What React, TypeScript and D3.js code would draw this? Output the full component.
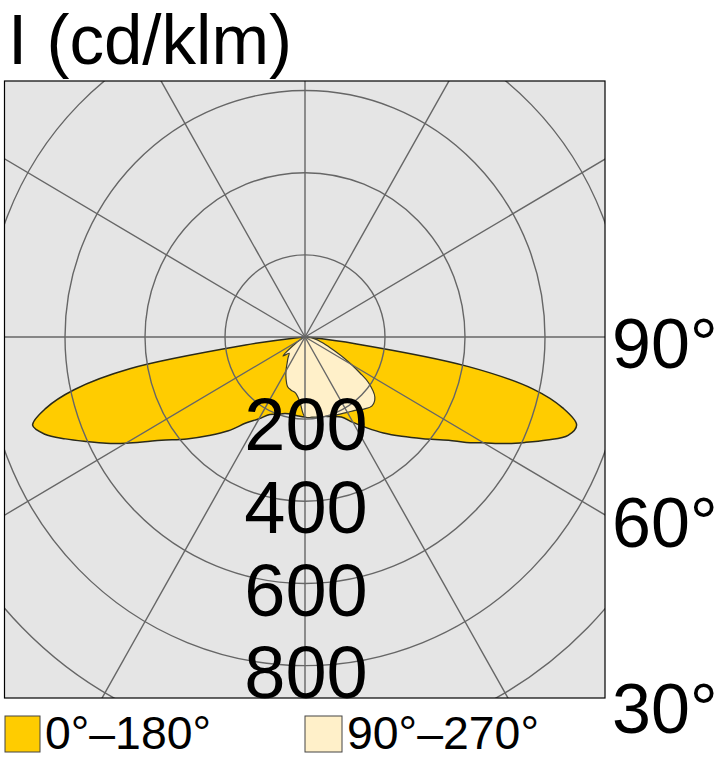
import { useEffect, useRef } from "react";
import * as d3 from "d3";

// gamma angles (deg from nadir) and intensities in cd/klm per C-plane
const gammaAngles = [0, 5, 10, 15, 20, 25, 30, 35, 40, 45, 50, 55, 57.5, 60, 62.5, 65, 67.5, 70, 72.5, 75, 77.5, 80, 82.5, 85, 87.5, 90];
const planeC0 = [195, 195, 196, 200, 206, 215, 240, 270, 305, 342, 385, 438, 478, 515, 562, 607, 655, 700, 712, 667, 583, 415, 130, 10, 0, 0];
const planeC180 = [195, 193, 191, 193, 200, 208, 230, 255, 298, 339, 386, 438, 475, 517, 560, 602, 648, 692, 714, 671, 590, 445, 150, 25, 0, 0];
const planeC90 = [195, 196, 198, 200, 203, 207, 212, 218, 229, 237, 228, 194, 163, 134, 109, 86, 68, 55, 45, 37, 30, 23, 14, 8, 3, 0];
const planeC270 = [195, 156, 138, 134, 128, 112, 95, 78, 66, 56, 72, 36, 24, 14, 11, 9, 7, 6, 5, 4, 3, 2, 1, 0, 0, 0];

const ringValues = [200, 400, 600, 800, 1000];
const ringLabels = ["200", "400", "600", "800"];
const angleLabels = ["90°", "60°", "30°"];
const seriesNames = ["0°–180°", "90°–270°"];
const seriesColors = ["#ffcc00", "#fff0c9"];

const FONT = "'Liberation Sans', Arial, sans-serif";

export default function App() {
  const svgRef = useRef<SVGSVGElement>(null);

  useEffect(() => {
    const svg = d3.select(svgRef.current);
    svg.selectAll("*").remove();

    const box = { x: 4.5, y: 81, w: 600.5, h: 617 };
    const cx = 305;
    const cy = 337;
    const yStretch = 1.027;

    const r = d3.scaleLinear().domain([0, 200]).range([0, 80]);
    const toRad = Math.PI / 180;

    svg
      .append("defs")
      .append("clipPath")
      .attr("id", "plotClip")
      .append("rect")
      .attr("x", box.x)
      .attr("y", box.y)
      .attr("width", box.w)
      .attr("height", box.h);

    svg
      .append("rect")
      .attr("x", box.x)
      .attr("y", box.y)
      .attr("width", box.w)
      .attr("height", box.h)
      .attr("fill", "#e5e5e5");

    const clipped = svg.append("g").attr("clip-path", "url(#plotClip)");
    const g = clipped
      .append("g")
      .attr("transform", `translate(${cx},${cy}) scale(1,${yStretch})`);

    // right half uses one plane, left half the opposite plane
    const curvePoints = (right: number[], left: number[]) => {
      const pts: [number, number][] = [];
      for (let i = gammaAngles.length - 1; i >= 0; i--)
        pts.push([Math.PI - gammaAngles[i] * toRad, r(right[i])]);
      for (let i = 1; i < gammaAngles.length; i++)
        pts.push([Math.PI + gammaAngles[i] * toRad, r(left[i])]);
      return pts;
    };

    const radial = d3
      .lineRadial<[number, number]>()
      .angle((d) => d[0])
      .radius((d) => d[1])
      .curve(d3.curveCatmullRomClosed.alpha(0.5));

    g.append("path")
      .attr("d", radial(curvePoints(planeC0, planeC180)))
      .attr("fill", seriesColors[0])
      .attr("stroke", "#2a2a1a")
      .attr("stroke-width", 1.5)
      .attr("vector-effect", "non-scaling-stroke");

    g.append("path")
      .attr("d", radial(curvePoints(planeC90, planeC270)))
      .attr("fill", seriesColors[1])
      .attr("stroke", "#3a3a2a")
      .attr("stroke-width", 1.2)
      .attr("vector-effect", "non-scaling-stroke");

    // grid
    g.selectAll(".ring")
      .data(ringValues)
      .enter()
      .append("circle")
      .attr("r", (d) => r(d))
      .attr("fill", "none")
      .attr("stroke", "#666")
      .attr("stroke-width", 1.4)
      .attr("vector-effect", "non-scaling-stroke");

    g.selectAll(".spoke")
      .data(d3.range(0, 360, 30))
      .enter()
      .append("line")
      .attr("x1", 0)
      .attr("y1", 0)
      .attr("x2", (d) => 900 * Math.sin(d * toRad))
      .attr("y2", (d) => -900 * Math.cos(d * toRad))
      .attr("stroke", "#666")
      .attr("stroke-width", 1.4)
      .attr("vector-effect", "non-scaling-stroke");

    svg
      .append("rect")
      .attr("x", box.x)
      .attr("y", box.y)
      .attr("width", box.w)
      .attr("height", box.h)
      .attr("fill", "none")
      .attr("stroke", "#000")
      .attr("stroke-width", 1.2);

    // title
    svg
      .append("text")
      .attr("x", 8)
      .attr("y", 64)
      .attr("font-family", FONT)
      .attr("font-size", 70)
      .attr("textLength", 284)
      .attr("lengthAdjust", "spacingAndGlyphs")
      .attr("fill", "#000")
      .text("I (cd/klm)");

    // ring labels along the nadir axis
    svg
      .selectAll(".ringLabel")
      .data(ringLabels)
      .enter()
      .append("text")
      .attr("x", cx + 1)
      .attr("y", (d) => cy + r(+d) * yStretch + 31 + (+d / 200 - 1) * 0.6)
      .attr("text-anchor", "middle")
      .attr("font-family", FONT)
      .attr("font-size", 74)
      .attr("fill", "#000")
      .text((d) => d);

    // angle labels on the right
    const angleY = [368, 547, 733];
    svg
      .selectAll(".angleLabel")
      .data(angleLabels)
      .enter()
      .append("text")
      .attr("x", 612)
      .attr("y", (_, i) => angleY[i])
      .attr("font-family", FONT)
      .attr("font-size", 70)
      .attr("fill", "#000")
      .text((d) => d);

    // legend
    const legendX = [5, 305];
    const legend = svg
      .selectAll(".legend")
      .data(seriesNames)
      .enter()
      .append("g")
      .attr("transform", (_, i) => `translate(${legendX[i]},0)`);

    legend
      .append("rect")
      .attr("x", 0)
      .attr("y", 716)
      .attr("width", (_, i) => (i === 0 ? 35 : 37))
      .attr("height", 36)
      .attr("fill", (_, i) => seriesColors[i])
      .attr("stroke", "#444")
      .attr("stroke-width", 1);

    legend
      .append("text")
      .attr("x", (_, i) => (i === 0 ? 40 : 42))
      .attr("y", 749)
      .attr("font-family", FONT)
      .attr("font-size", 46)
      .attr("textLength", (_, i) => (i === 0 ? 166 : 192))
      .attr("lengthAdjust", "spacingAndGlyphs")
      .attr("fill", "#000")
      .text((d) => d);
  }, []);

  return (
    <svg
      ref={svgRef}
      width={723}
      height={759}
      style={{ position: "absolute", left: 0, top: 0, background: "#fff" }}
    />
  );
}
